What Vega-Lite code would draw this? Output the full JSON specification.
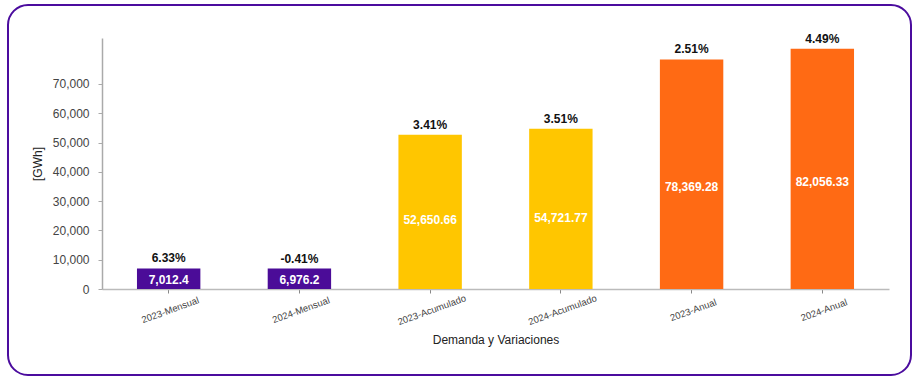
{
  "$schema": "https://vega.github.io/schema/vega-lite/v6.json",
  "width": 903,
  "height": 370,
  "autosize": "none",
  "padding": {"left": 8, "top": 5, "right": 8, "bottom": 5},
  "background": "white",
  "config": {
    "font": "Liberation Sans",
    "view": {"stroke": "#4B0C9E", "strokeWidth": 2, "cornerRadius": 20}
  },
  "data": {
    "values": [
      {"categoria": "2023-Mensual", "tipo": "Mensual", "valor": 7012.4, "variacion": "6.33%"},
      {"categoria": "2024-Mensual", "tipo": "Mensual", "valor": 6976.2, "variacion": "-0.41%"},
      {"categoria": "2023-Acumulado", "tipo": "Acumulado", "valor": 52650.66, "variacion": "3.41%"},
      {"categoria": "2024-Acumulado", "tipo": "Acumulado", "valor": 54721.77, "variacion": "3.51%"},
      {"categoria": "2023-Anual", "tipo": "Anual", "valor": 78369.28, "variacion": "2.51%"},
      {"categoria": "2024-Anual", "tipo": "Anual", "valor": 82056.33, "variacion": "4.49%"}
    ]
  },
  "transform": [{"calculate": "datum.valor * 0.445", "as": "posEtiqueta"}],
  "encoding": {
    "x": {
      "field": "categoria",
      "type": "nominal",
      "sort": null,
      "scale": {"range": [94, 881], "paddingInner": 0.515, "paddingOuter": 0.2675},
      "axis": {
        "title": "Demanda y Variaciones",
        "offset": -86,
        "labelAngle": -20,
        "labelAlign": "center",
        "labelBaseline": "top",
        "labelPadding": 12,
        "labelFontSize": 9.5,
        "labelColor": "#444444",
        "tickSize": 4,
        "tickColor": "#888888",
        "domainColor": "#bbbbbb",
        "domainWidth": 1.5,
        "titleFontSize": 12,
        "titleFontWeight": "normal",
        "titleColor": "#222222",
        "titleBaseline": "middle",
        "titleY": 50
      }
    }
  },
  "layer": [
    {
      "mark": {"type": "bar"},
      "encoding": {
        "y": {
          "field": "valor",
          "type": "quantitative",
          "scale": {"domain": [0, 85700], "range": [284, 33], "nice": false},
          "axis": {
            "title": "[GWh]",
            "offset": -94,
            "values": [0, 10000, 20000, 30000, 40000, 50000, 60000, 70000],
            "format": ",.0f",
            "grid": false,
            "labelFontSize": 12,
            "labelColor": "#444444",
            "labelPadding": 9,
            "tickSize": 4,
            "tickColor": "#aaaaaa",
            "domainColor": "#aaaaaa",
            "domainWidth": 1.5,
            "titleFontSize": 12,
            "titleFontWeight": "normal",
            "titleColor": "#222222",
            "titlePadding": 8
          }
        },
        "color": {
          "field": "tipo",
          "type": "nominal",
          "scale": {"domain": ["Mensual", "Acumulado", "Anual"], "range": ["#4B0C98", "#FFC600", "#FF6A14"]},
          "legend": null
        }
      }
    },
    {
      "mark": {"type": "text", "baseline": "bottom", "dy": -3, "fontSize": 12, "fontWeight": "bold", "color": "#111111"},
      "encoding": {
        "y": {"field": "valor", "type": "quantitative"},
        "text": {"field": "variacion", "type": "nominal"}
      }
    },
    {
      "mark": {"type": "text", "baseline": "middle", "fontSize": 12, "fontWeight": "bold", "color": "white"},
      "encoding": {
        "y": {"field": "posEtiqueta", "type": "quantitative"},
        "text": {"field": "valor", "type": "quantitative", "format": ",.2~f"}
      }
    }
  ]
}
